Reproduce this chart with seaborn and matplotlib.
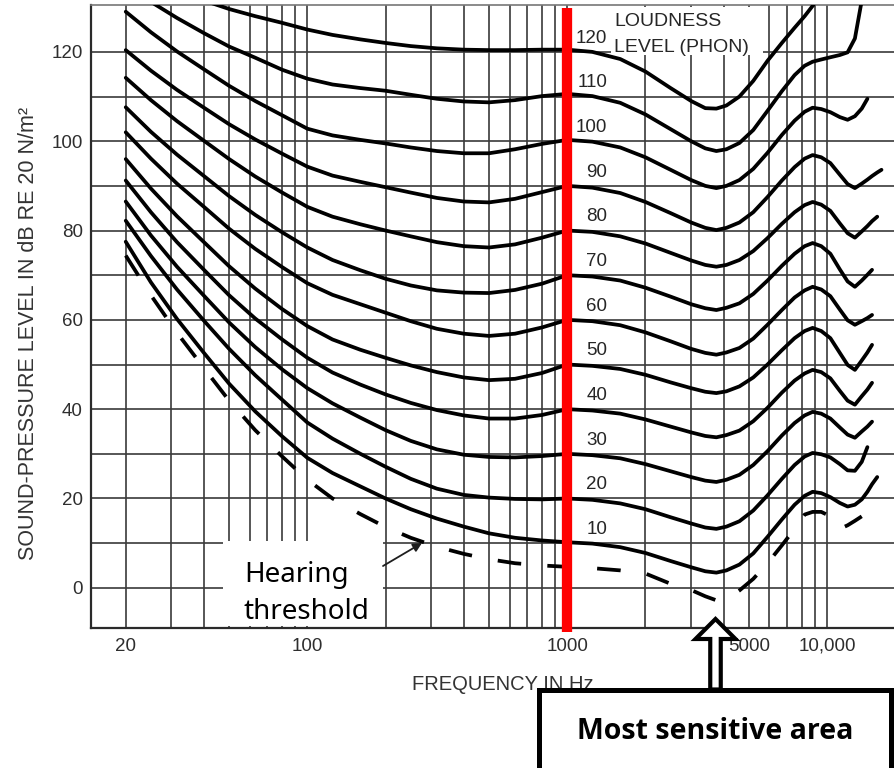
import numpy as np
import pandas as pd
import matplotlib
matplotlib.use("Agg")
import matplotlib.pyplot as plt
from matplotlib import font_manager as fm
from matplotlib.patches import Rectangle, FancyArrow, FancyArrowPatch
from matplotlib.ticker import NullFormatter
import seaborn as sns

nan = np.nan

# Frequency grid (Hz) shared by every contour
freq_hz = [20, 25, 31.5, 40, 50, 63, 80, 100, 125, 160, 200, 250, 315, 400, 500, 630, 800,
           1000, 1250, 1600, 2000, 2500, 3000, 3400, 3750,
           4100, 4600, 5200, 5900, 6700, 7500, 8200, 8800,
           9500, 10300, 11200, 12000, 12800, 13600, 14300, 14900, 15600, 16200]

# Sound-pressure level (dB) along the hearing threshold and each equal-loudness contour
threshold_db = [74.4, 65.5, 57.1, 49.2, 41.9, 35.3, 29.4, 24.2, 20.0, 16.5, 13.6, 11.2, 9.2, 7.6, 6.4, 5.5, 5.0,
                4.7, 4.4, 3.9, 3.2, 0.9, -0.5, -1.9, -2.8,
                -2.6, -0.6, 2.0, 5.5, 9.5, 13.2, 16.4, 17.0,
                17.0, 16.0, 13.2, 14.0, 15.0, 16.0, nan, nan, nan, nan]
phon_10 = [77.5, 68.4, 60.2, 52.6, 45.7, 39.5, 33.9, 29.1, 25.7, 22.7, 20.0, 17.6, 15.5, 13.7, 12.2, 11.2, 10.6,
           10.2, 9.9, 9.1, 7.8, 6.0, 4.6, 3.7, 3.4,
           3.9, 5.2, 7.7, 11.4, 15.3, 18.6, 20.6, 21.5,
           21.2, 20.3, 19.0, 18.2, 18.6, 19.8, 21.5, 23.2, 24.8, nan]
phon_20 = [82.2, 74.3, 66.8, 59.8, 53.5, 47.6, 42.1, 37.0, 33.4, 30.0, 27.1, 24.4, 22.2, 20.8, 20.2, 19.9, 19.8,
           20.0, 19.7, 18.9, 17.6, 15.8, 14.4, 13.5, 13.2,
           13.7, 14.9, 17.3, 20.7, 24.4, 27.5, 29.4, 30.2,
           29.9, 29.2, 27.7, 26.3, 26.2, 28.2, 31.5, nan, nan, nan]
phon_30 = [86.5, 78.9, 71.9, 65.4, 59.4, 53.9, 48.9, 44.7, 41.3, 38.1, 35.3, 32.9, 31.0, 29.8, 29.3, 29.2, 29.5,
           30.0, 29.7, 29.0, 27.7, 26.1, 24.8, 24.0, 23.7,
           24.2, 25.3, 27.5, 30.6, 34.1, 36.9, 38.6, 39.4,
           39.0, 37.9, 35.9, 34.3, 33.6, 35.0, 36.1, 37.2, nan, nan]
phon_40 = [91.2, 84.1, 77.4, 71.2, 65.5, 60.3, 55.6, 51.5, 48.2, 45.5, 43.3, 41.4, 39.8, 38.6, 37.9, 37.9, 38.7,
           40.0, 39.7, 39.0, 37.7, 36.1, 34.8, 34.0, 33.7,
           34.2, 35.2, 37.3, 40.3, 43.7, 46.4, 48.0, 48.8,
           48.3, 46.9, 44.1, 41.9, 41.0, 42.9, 44.4, 45.9, nan, nan]
phon_50 = [96.0, 89.4, 83.2, 77.4, 72.0, 67.0, 62.4, 58.6, 55.6, 53.3, 51.5, 49.8, 48.3, 47.1, 46.5, 46.8, 48.1,
           50.0, 49.7, 49.0, 47.7, 46.0, 44.7, 43.9, 43.6,
           44.0, 45.1, 47.1, 50.0, 53.2, 55.9, 57.5, 58.2,
           57.5, 55.9, 52.6, 49.9, 48.8, 50.9, 52.7, 54.4, nan, nan]
phon_60 = [102.0, 96.1, 90.5, 85.3, 80.4, 75.9, 71.8, 68.2, 65.6, 63.5, 61.6, 59.7, 58.0, 56.9, 56.4, 56.9, 58.3,
           60.0, 59.7, 58.8, 57.2, 55.2, 53.5, 52.6, 52.2,
           52.7, 53.7, 55.8, 58.9, 62.2, 65.0, 66.6, 67.4,
           66.8, 65.3, 62.3, 59.9, 58.9, 59.7, 60.4, 61.1, nan, nan]
phon_70 = [107.6, 102.1, 97.0, 92.2, 87.7, 83.5, 79.6, 76.2, 73.4, 71.1, 69.2, 67.7, 66.6, 66.1, 66.0, 66.7, 68.1,
           70.0, 69.7, 68.8, 67.2, 65.2, 63.5, 62.6, 62.2,
           62.7, 63.7, 65.8, 68.8, 72.1, 74.8, 76.5, 77.2,
           76.5, 74.8, 71.3, 68.6, 67.4, 68.8, 70.1, 71.2, nan, nan]
phon_80 = [114.2, 109.2, 104.5, 100.1, 96.0, 92.1, 88.5, 85.3, 83.1, 81.4, 80.0, 78.7, 77.4, 76.5, 76.2, 76.9, 78.4,
           80.0, 79.7, 78.7, 77.1, 75.0, 73.3, 72.3, 71.9,
           72.3, 73.4, 75.4, 78.3, 81.5, 84.1, 85.7, 86.4,
           85.8, 84.4, 81.6, 79.4, 78.4, 79.8, 81.0, 82.1, 83.1, nan]
phon_90 = [120.4, 115.8, 111.5, 107.5, 103.8, 100.4, 97.2, 94.3, 92.3, 90.9, 89.7, 88.5, 87.3, 86.5, 86.3, 87.1, 88.6,
           90.0, 89.6, 88.4, 86.4, 83.9, 81.8, 80.6, 80.1,
           80.6, 81.8, 84.1, 87.5, 91.2, 94.2, 96.1, 96.9,
           96.4, 95.1, 92.5, 90.4, 89.5, 90.5, 91.4, 92.2, 93.0, 93.6]
phon_100 = [129.0, 124.4, 120.1, 116.1, 112.4, 109.0, 105.8, 102.8, 101.3, 100.3, 99.5, 98.6, 97.8, 97.3, 97.3, 98.2, 99.4,
            100.3, 99.9, 98.6, 96.4, 93.6, 91.3, 90.0, 89.5,
            90.0, 91.3, 93.8, 97.4, 101.4, 104.6, 106.6, 107.5,
            107.2, 106.5, 105.4, 104.8, 105.6, 107.3, 109.5, nan, nan, nan]
phon_110 = [135.0, 131.2, 127.6, 124.2, 121.2, 118.7, 116.0, 114.0, 112.7, 111.9, 111.3, 110.4, 109.5, 108.9, 108.7, 109.2, 110.1,
            110.6, 110.1, 108.6, 106.0, 102.7, 100.0, 98.4, 97.8,
            98.2, 99.6, 102.5, 106.8, 111.2, 114.8, 116.9, 117.8,
            118.3, 118.8, 119.3, 119.9, 123.0, 131.5, nan, nan, nan, nan]
phon_120 = [139.0, 136.2, 133.7, 131.5, 129.6, 128.0, 126.5, 125.0, 123.8, 122.8, 122.0, 121.3, 120.8, 120.5, 120.4, 120.4, 120.5,
            120.5, 120.0, 118.4, 115.6, 111.9, 109.0, 107.4, 107.3,
            108.0, 110.0, 113.5, 118.0, 122.0, 125.4, 128.0, 130.3,
            132.8, nan, nan, nan, nan, nan, nan, nan, nan, nan]

phon_levels = [10, 20, 30, 40, 50, 60, 70, 80, 90, 100, 110, 120]
phon_curves = [phon_10, phon_20, phon_30, phon_40, phon_50, phon_60,
               phon_70, phon_80, phon_90, phon_100, phon_110, phon_120]

x_tick_values = [20, 100, 1000, 5000, 10000]
x_tick_labels = ["20", "100", "1000", "5000", "10,000"]
y_tick_values = [0, 20, 40, 60, 80, 100, 120]
x_grid_values = [20, 30, 40, 50, 60, 70, 80, 90,
                 100, 200, 300, 400, 500, 600, 700, 800, 900,
                 1000, 2000, 3000, 4000, 5000, 6000, 7000, 8000, 9000, 10000]
y_grid_values = [0, 10, 20, 30, 40, 50, 60, 70, 80, 90, 100, 110, 120]
reference_freq = 1000

# long-form table for seaborn
rows = []
for f, v in zip(freq_hz, threshold_db):
    if not np.isnan(v):
        rows.append({"curve": "threshold", "kind": "threshold", "freq": f, "spl": v})
for level, values in zip(phon_levels, phon_curves):
    for f, v in zip(freq_hz, values):
        if not np.isnan(v):
            rows.append({"curve": f"{level} phon", "kind": "contour", "freq": f, "spl": v})
df = pd.DataFrame(rows)

sns.set_theme(style="white")
plt.rcParams["font.family"] = ["Liberation Sans", "DejaVu Sans"]


def family_with_bold(candidates):
    for name in candidates:
        try:
            path = fm.findfont(fm.FontProperties(family=name, weight="bold"),
                               fallback_to_default=False)
        except Exception:
            continue
        if "bold" in path.lower():
            return name
    return "DejaVu Sans"


callout_bold = family_with_bold(["Noto Sans", "Open Sans", "Roboto", "Lato", "Liberation Sans"])

W, H = 894, 768
fig = plt.figure(figsize=(W / 100, H / 100), dpi=100)
fig.patch.set_facecolor("white")


def fx(px):
    return px / W


def fy(py):
    return 1 - py / H


ax = fig.add_axes([fx(91), fy(628), 1 - fx(91), (628 - 5) / H])
ax.set_xscale("log")

sns.lineplot(data=df, x="freq", y="spl", units="curve", estimator=None, style="kind",
             dashes={"contour": "", "threshold": (6.3, 7.0)}, color="black",
             linewidth=2.7, legend=False, ax=ax, zorder=3)
for line in ax.lines:
    line.set_dash_capstyle("butt")
    line.set_solid_capstyle("round")
    line.set_solid_joinstyle("round")

ax.set_xlim(14.7, 18100)
ax.set_ylim(-9, 130.5)
ax.set_xlabel("")
ax.set_ylabel("")

ax.set_xticks(x_tick_values, x_tick_labels)
ax.set_xticks(x_grid_values, minor=True)
ax.xaxis.set_minor_formatter(NullFormatter())
ax.set_yticks(y_tick_values, [str(v) for v in y_tick_values])
ax.set_yticks(y_grid_values, minor=True)
ax.yaxis.set_minor_formatter(NullFormatter())
ax.set_axisbelow(True)
ax.grid(True, which="both", color="#3a3a3a", linewidth=1.2)
ax.tick_params(which="both", length=0)
ax.tick_params(axis="x", pad=7, labelsize=13.5, labelcolor="#2e2e2e")
ax.tick_params(axis="y", pad=6, labelsize=13.5, labelcolor="#2e2e2e")

ax.spines["right"].set_visible(False)
for side in ("left", "bottom"):
    ax.spines[side].set_color("#2a2a2a")
    ax.spines[side].set_linewidth(1.6)
ax.spines["top"].set_color("#777777")
ax.spines["top"].set_linewidth(1.2)

# 1 kHz reference line
ax.axvline(reference_freq, ymin=-0.0064, ymax=0.9947, color="#ff0000", linewidth=7.4,
           clip_on=False, zorder=4, solid_capstyle="butt")

# contour labels just right of the reference line
for level in phon_levels:
    ax.text(1423, level + 3.5, str(level), ha="right", va="center_baseline",
            fontsize=13.5, color="#262626", zorder=5)

# caption for the contour labels, on a white patch that hides the grid
ax.add_patch(Rectangle((fx(611), fy(55)), fx(763) - fx(611), fy(7) - fy(55),
                       transform=fig.transFigure, facecolor="white", edgecolor="none", zorder=1))
fig.text(fx(614), fy(20), "LOUDNESS", ha="left", va="center_baseline",
         fontsize=14, color="#262626")
fig.text(fx(614), fy(45.5), "LEVEL (PHON)", ha="left", va="center_baseline",
         fontsize=14, color="#262626")

# axis titles
fig.text(fx(503), fy(682), "FREQUENCY IN Hz", ha="center", va="center_baseline",
         fontsize=14.5, color="#333333")
fig.text(fx(29), fy(333), "SOUND-PRESSURE LEVEL IN dB RE 20 N/m²", rotation=90,
         ha="center", va="center", fontsize=15.5, color="#333333")

# hearing threshold callout
fig.add_artist(Rectangle((fx(223), fy(626)), fx(383) - fx(223), fy(541) - fy(626),
                         transform=fig.transFigure, facecolor="white", edgecolor="none", zorder=2))
fig.text(fx(244), fy(582), "Hearing", ha="left", va="baseline", fontsize=20,
         family=["Noto Sans", "DejaVu Sans"], color="black", zorder=4)
fig.text(fx(243), fy(619), "threshold", ha="left", va="baseline", fontsize=20,
         family=["Noto Sans", "DejaVu Sans"], color="black", zorder=4)
fig.add_artist(FancyArrowPatch(posA=(fx(383), fy(566)), posB=(fx(422), fy(543)),
                               transform=fig.transFigure, arrowstyle="-|>", mutation_scale=13,
                               linewidth=1.3, color="#1e1e1e", shrinkA=0, shrinkB=0, zorder=4))

# most sensitive area callout
fig.add_artist(Rectangle((fx(539), fy(790)), fx(891) - fx(539), fy(689.5) - fy(790),
                         transform=fig.transFigure, facecolor="white", edgecolor="black",
                         linewidth=3.6, zorder=5, clip_on=False))
fig.add_artist(FancyArrow(7.155, (H - 689.5) / 100, 0, 0.705, width=0.105, head_width=0.40,
                          head_length=0.20, length_includes_head=True,
                          transform=fig.dpi_scale_trans, facecolor="white", edgecolor="black",
                          linewidth=3.0, joinstyle="miter", zorder=6))
fig.text(fx(715), fy(739), "Most sensitive area", ha="center", va="baseline",
         fontsize=20.5, fontweight="bold", family=[callout_bold, "DejaVu Sans"],
         color="black", zorder=7)

fig.savefig("out.png", dpi=100, facecolor="white")
